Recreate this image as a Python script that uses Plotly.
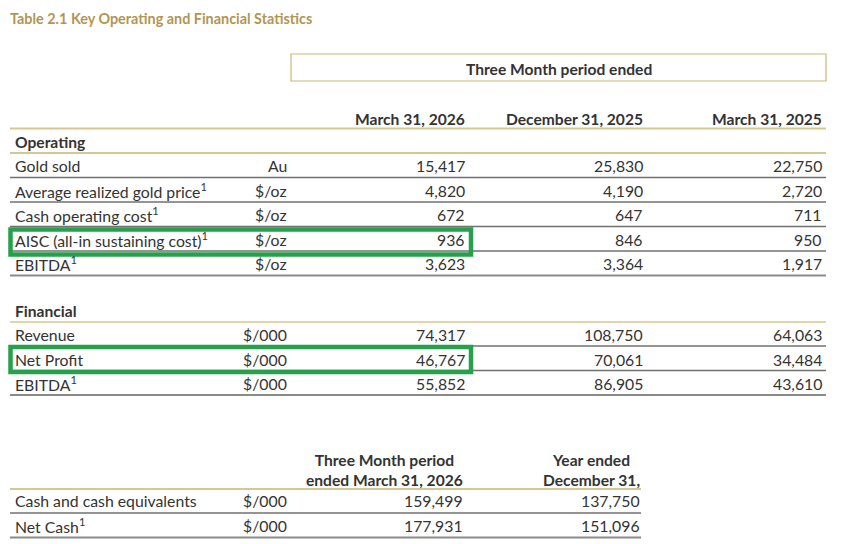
import plotly.graph_objects as go

# ---- data ----
title = "Table 2.1 Key Operating and Financial Statistics"
period_header = "Three Month period ended"
col_headers = ["March 31, 2026", "December 31, 2025", "March 31, 2025"]

op_labels = ["Gold sold", "Average realized gold price<sup>1</sup>", "Cash operating cost<sup>1</sup>",
             "AISC (all-in sustaining cost)<sup>1</sup>", "EBITDA<sup>1</sup>"]
op_units = ["Au", "$/oz", "$/oz", "$/oz", "$/oz"]
op_mar26 = [15417, 4820, 672, 936, 3623]
op_dec25 = [25830, 4190, 647, 846, 3364]
op_mar25 = [22750, 2720, 711, 950, 1917]

fin_labels = ["Revenue", "Net Profit", "EBITDA<sup>1</sup>"]
fin_units = ["$/000", "$/000", "$/000"]
fin_mar26 = [74317, 46767, 55852]
fin_dec25 = [108750, 70061, 86905]
fin_mar25 = [64063, 34484, 43610]

cash_headers = ["Three Month period<br>ended March 31, 2026", "Year ended<br>December 31,"]
cash_labels = ["Cash and cash equivalents", "Net Cash<sup>1</sup>"]
cash_units = ["$/000", "$/000"]
cash_q1 = [159499, 177931]
cash_fy = [137750, 151096]

highlight_op = [3]   # AISC row
highlight_fin = [1]  # Net Profit row

# ---- style ----
FONT = "Lato"
TXT = "#333333"
GOLD = "#b39553"
GOLD_LINE = "#d8c690"
ROW_LINE = "#707070"
GREEN = "#27a04b"
FS = 15.8
HS = 15.6

x_label = 14
x_unit = 288
x_cols = [466, 644, 823]
x_left, x_right = 10, 826
row_h = 24.5
dy = -2.5   # nudge row text up off the rules

fig = go.Figure()
ann = []
shapes = []


def txt(x, y, s, anchor="left", bold=False, size=FS, color=TXT, yanchor="middle"):
    ann.append(dict(x=x, y=y, xref="x", yref="y", text=f"<b>{s}</b>" if bold else s,
                    showarrow=False, xanchor=anchor, yanchor=yanchor, borderpad=0,
                    font=dict(family=FONT, size=size, color=color)))


def hline(y, x0=x_left, x1=x_right, color=ROW_LINE, w=1.3):
    shapes.append(dict(type="line", xref="x", yref="y", x0=x0, x1=x1, y0=y, y1=y,
                       line=dict(color=color, width=w)))


def box(y0, y1):
    shapes.append(dict(type="rect", xref="x", yref="y", x0=10.5, x1=471, y0=y0, y1=y1,
                       line=dict(color=GREEN, width=4.5)))


# title (top of its box kept inside the figure)
txt(9, 8.5, title, bold=True, size=14.4, color=GOLD, yanchor="top")

# period box
shapes.append(dict(type="rect", xref="x", yref="y", x0=291, x1=826, y0=54, y1=81,
                   line=dict(color="#cdb679", width=1.2)))
txt(559, 68.5, period_header, anchor="center", bold=True, size=HS)

# column headers
for xc, h in zip(x_cols, col_headers):
    txt(xc, 118.5, h, anchor="right", bold=True, size=HS)
hline(128.5, color=GOLD_LINE, w=2)

# operating
txt(x_label, 142, "Operating", bold=True, size=HS)
hline(153, color=GOLD_LINE, w=2)
y0 = 168
for i, lab in enumerate(op_labels):
    y = y0 + i * row_h
    txt(x_label, y + dy, lab)
    txt(x_unit, y + dy, op_units[i], anchor="right")
    for xc, v in zip(x_cols, [op_mar26[i], op_dec25[i], op_mar25[i]]):
        txt(xc, y + dy, f"{v:,}", anchor="right")
    last = i == len(op_labels) - 1
    hline(y + 9.5, color="#8a8a8a" if last else ROW_LINE, w=2 if last else 1.3)
for i in highlight_op:
    y = y0 + i * row_h
    box(y - 12, y + 13)

# financial
txt(x_label, 310.5, "Financial", bold=True, size=HS)
hline(322, color=GOLD_LINE, w=1.5)
y0 = 337
for i, lab in enumerate(fin_labels):
    y = y0 + i * row_h
    txt(x_label, y + dy, lab)
    txt(x_unit, y + dy, fin_units[i], anchor="right")
    for xc, v in zip(x_cols, [fin_mar26[i], fin_dec25[i], fin_mar25[i]]):
        txt(xc, y + dy, f"{v:,}", anchor="right")
    last = i == len(fin_labels) - 1
    hline(y + 9, color="#8a8a8a" if last else ROW_LINE, w=2 if last else 1.3)
for i in highlight_fin:
    y = y0 + i * row_h
    box(y - 14.5, y + 10.5)

# cash
cash_x = [464, 641]
for xc, h in zip(cash_x, cash_headers):
    txt(xc, 469.5, h, anchor="right", bold=True, size=HS)
hline(489, x1=641, color=GOLD_LINE, w=2)
y0 = 503
for i, lab in enumerate(cash_labels):
    y = y0 + i * row_h
    txt(x_label, y + dy, lab)
    txt(x_unit, y + dy, cash_units[i], anchor="right")
    for xc, v in zip(cash_x, [cash_q1[i], cash_fy[i]]):
        txt(xc, y + dy, f"{v:,}", anchor="right")
    last = i == len(cash_labels) - 1
    hline(y + 10, x1=641, color="#8a8a8a" if last else ROW_LINE, w=2 if last else 1.3)

# the page puts the plot 8px in from the top-left corner, so the ranges start at 8
fig.update_layout(
    width=843, height=544, margin=dict(l=0, r=0, t=0, b=0),
    paper_bgcolor="white", plot_bgcolor="white",
    xaxis=dict(range=[8, 851], visible=False, fixedrange=True),
    yaxis=dict(range=[552, 8], visible=False, fixedrange=True),
    annotations=ann, shapes=shapes, showlegend=False,
)
fig.write_html("out.html")
